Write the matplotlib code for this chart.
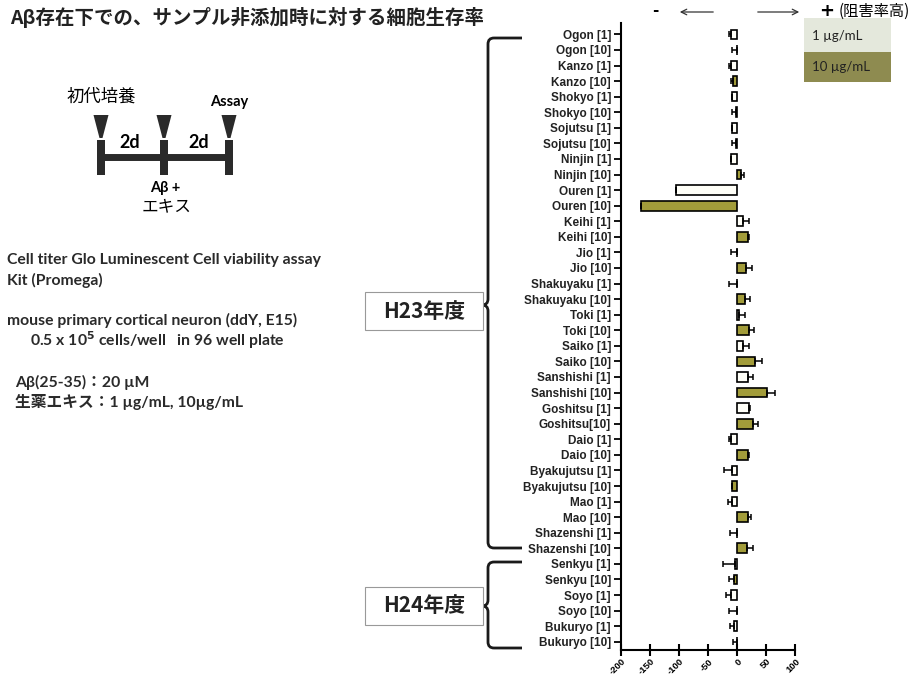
import numpy as np
import matplotlib.pyplot as plt
from matplotlib.patches import Rectangle, Polygon
from matplotlib.path import Path
from matplotlib.patches import PathPatch

# cell viability relative to no-sample control, with Abeta present
herbs = ['Ogon', 'Kanzo', 'Shokyo', 'Sojutsu', 'Ninjin', 'Ouren', 'Keihi', 'Jio',
         'Shakuyaku', 'Toki', 'Saiko', 'Sanshishi', 'Goshitsu', 'Daio', 'Byakujutsu',
         'Mao', 'Shazenshi', 'Senkyu', 'Soyo', 'Bukuryo']
labels = ['Ogon [1]', 'Ogon [10]', 'Kanzo [1]', 'Kanzo [10]', 'Shokyo [1]', 'Shokyo [10]',
          'Sojutsu [1]', 'Sojutsu [10]', 'Ninjin [1]', 'Ninjin [10]', 'Ouren [1]', 'Ouren [10]',
          'Keihi [1]', 'Keihi [10]', 'Jio [1]', 'Jio [10]', 'Shakuyaku [1]', 'Shakuyaku [10]',
          'Toki [1]', 'Toki [10]', 'Saiko [1]', 'Saiko [10]', 'Sanshishi [1]', 'Sanshishi [10]',
          'Goshitsu [1]', 'Goshitsu[10]', 'Daio [1]', 'Daio [10]', 'Byakujutsu [1]',
          'Byakujutsu [10]', 'Mao [1]', 'Mao [10]', 'Shazenshi [1]', 'Shazenshi [10]',
          'Senkyu [1]', 'Senkyu [10]', 'Soyo [1]', 'Soyo [10]', 'Bukuryo [1]', 'Bukuryo [10]']

values_1 = [-10, -10, -8, -8, -10, -105, 10, -1, -1, 3, 10, 19, 21, -10, -9, -9, -1, -3, -11, -5]
err_1 = [4, 4, 0, 0, 0, 0, 10, 9, 13, 11, 11, 8, 2, 4, 13, 7, 12, 22, 8, 8]
values_10 = [-1, -7, -2, -2, 7, -165, 19, 15, 13, 20, 30, 51, 27, 19, -8, 18, 17, -5, -1, -1]
err_10 = [7, 3, 6, 6, 4, 0, 2, 11, 10, 9, 13, 14, 9, 2, 0, 6, 10, 9, 13, 6]

xticks = [-200, -150, -100, -50, 0, 50, 100]

OLIVE = '#a29c3a'
JP = ['Noto Sans CJK JP', 'DejaVu Sans']
CAL = ['Lato', 'Noto Sans CJK JP', 'DejaVu Sans']

W, H = 921, 677
fig = plt.figure(figsize=(W / 100, H / 100), dpi=100)

# pixel-coordinate layer for the annotations
ov = fig.add_axes([0, 0, 1, 1], zorder=0)
ov.set_xlim(0, W)
ov.set_ylim(H, 0)
ov.axis('off')

# ---- bar chart ----
ax = fig.add_axes([620.7 / W, 1 - 650 / H, 174.6 / W, 627 / H], zorder=1)
ax.patch.set_alpha(0)

vals = np.empty(40)
errs = np.empty(40)
vals[0::2], vals[1::2] = values_1, values_10
errs[0::2], errs[1::2] = err_1, err_10
pos = np.arange(40)
colors = ['#fffff8', OLIVE] * 20

ax.barh(pos, vals, height=0.62, color=colors, edgecolor='black', linewidth=1.2, zorder=2)
lower = np.where(vals < 0, errs, 0)
upper = np.where(vals >= 0, errs, 0)
ax.errorbar(vals, pos, xerr=[lower, upper], fmt='none', ecolor='black',
            elinewidth=1.1, capsize=2.5, capthick=1.1, zorder=3)

ax.set_xlim(-200, 100)
ax.set_ylim(39.53, -0.73)
ax.set_yticks(pos)
ax.set_yticklabels(labels, fontfamily='Liberation Sans', fontweight='bold', fontsize=8.5,
                   color='#222222')
ax.set_xticks(xticks)
ax.set_xticklabels([str(t) for t in xticks], rotation=45, ha='right', va='top',
                   rotation_mode='anchor', fontfamily='Liberation Sans',
                   fontweight='bold', fontsize=6.8)
ax.tick_params(axis='y', direction='out', length=5, width=1.3, pad=2)
ax.tick_params(axis='x', direction='inout', length=8, width=1.5, pad=1)
for s in ['top', 'right']:
    ax.spines[s].set_visible(False)
for s in ['left', 'bottom']:
    ax.spines[s].set_linewidth(1.5)

# ---- direction arrows and legend ----
ov.text(655, 11, '-', fontsize=11, fontweight='bold', ha='center', va='center')
ov.annotate('', xy=(677, 12), xytext=(716, 12),
            arrowprops=dict(arrowstyle='->', lw=0.9, color='#333333'))
ov.annotate('', xy=(802, 12), xytext=(755, 12),
            arrowprops=dict(arrowstyle='->', lw=0.9, color='#333333'))
ov.text(827, 11, '+', fontsize=13, fontweight='bold', ha='center', va='center')
ov.text(839, 11, '(阻害率高)', fontsize=11, family=JP, ha='left', va='center')

ov.add_patch(Rectangle((804, 18), 87, 34, facecolor='#e4e8dc', edgecolor='none'))
ov.add_patch(Rectangle((804, 52), 87, 30, facecolor='#8e8b50', edgecolor='none'))
ov.text(812, 36, '1 µg/mL', fontsize=9.5, family=CAL, ha='left', va='center', color='#222222')
ov.text(812, 67, '10 µg/mL', fontsize=9.5, family=CAL, ha='left', va='center', color='#222222')

# ---- title ----
ov.text(10, 18, 'Aβ存在下での、サンプル非添加時に対する細胞生存率', fontsize=14,
        family=JP, fontweight='bold', ha='left', va='center', color='#222222')

# ---- protocol timeline ----
dark = '#2a2a2a'
ov.plot([100, 229], [156.5, 156.5], color=dark, lw=5, solid_capstyle='butt')
for x in [101, 164, 229]:
    ov.add_patch(Rectangle((x - 4, 140), 8, 35, facecolor=dark, edgecolor='none'))
    ov.add_patch(Polygon([(x - 7.5, 115), (x + 7.5, 115), (x + 1.5, 138), (x - 1.5, 138)],
                         closed=True, facecolor=dark, edgecolor='none'))
ov.text(101, 97, '初代培養', fontsize=12.5, family=JP, ha='center', va='center')
ov.text(229, 102, 'Assay', fontsize=10.5, family=CAL, fontweight='bold', ha='center', va='center')
ov.text(130, 143, '2d', fontsize=13, family=CAL, fontweight='bold', ha='center', va='center')
ov.text(199, 143, '2d', fontsize=13, family=CAL, fontweight='bold', ha='center', va='center')
ov.text(165, 188, 'Aβ +', fontsize=10.5, family=CAL, fontweight='bold', ha='center', va='center')
ov.text(167, 207, 'エキス', fontsize=12, family=JP, ha='center', va='center')

# ---- assay conditions ----
cond = dict(fontsize=11.3, family=CAL, fontweight='bold', ha='left', va='center', color='#2a2a2a')
ov.text(7, 260, 'Cell titer Glo Luminescent Cell viability assay', **cond)
ov.text(7, 280, 'Kit (Promega)', **cond)
ov.text(7, 320, 'mouse primary cortical neuron (ddY, E15)', **cond)
ov.text(30, 340, r'0.5 x 10$^{\mathbf{5}}$ cells/well   in 96 well plate', **cond)
ov.text(15, 382, 'Aβ(25-35)：20 µM', **cond)
ov.text(15, 402, '生薬エキス：1 µg/mL, 10µg/mL', **cond)

# ---- fiscal-year brackets ----
def bracket(y0, y1, ym):
    verts = [(522, y0), (494, y0), (488, y0), (488, y0 + 6), (488, ym - 6),
             (488, ym), (482, ym), (488, ym), (488, ym + 6), (488, y1 - 6),
             (488, y1), (494, y1), (522, y1)]
    codes = [Path.MOVETO, Path.LINETO, Path.CURVE3, Path.CURVE3, Path.LINETO,
             Path.CURVE3, Path.CURVE3, Path.CURVE3, Path.CURVE3, Path.LINETO,
             Path.CURVE3, Path.CURVE3, Path.LINETO]
    ov.add_patch(PathPatch(Path(verts, codes), facecolor='none', edgecolor='#1a1a1a', lw=2))

bracket(38, 548, 305)
bracket(562, 648, 606)

for yc, txt in [(311, 'H23年度'), (606, 'H24年度')]:
    ov.add_patch(Rectangle((365, yc - 19), 118, 38, facecolor='white',
                           edgecolor='#999999', lw=0.8))
    ov.text(424, yc, txt, fontsize=15, family=JP, fontweight='bold',
            ha='center', va='center', color='#222222')

fig.savefig('out.png', dpi=100)
